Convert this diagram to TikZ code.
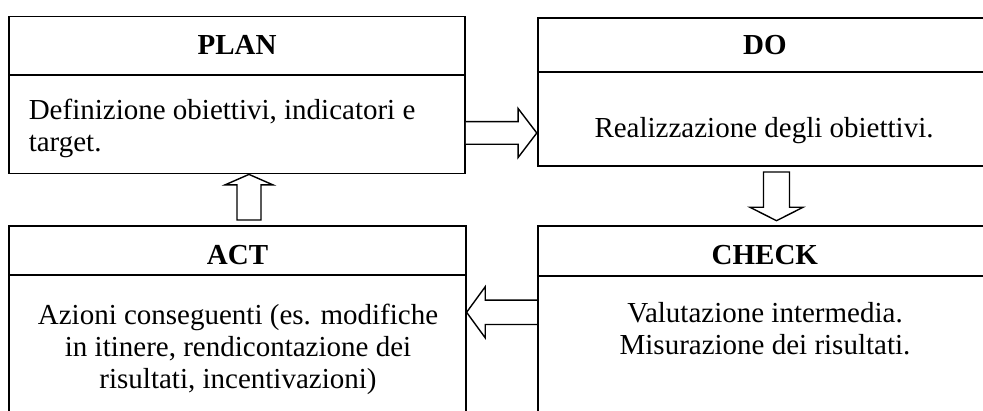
\documentclass[tikz,border=0pt]{standalone}
\usepackage{fontspec}
\setmainfont{Liberation Serif}
\usetikzlibrary{calc}
\begin{document}
\begin{tikzpicture}[x=1pt,y=-1pt,
  boxst/.style={draw, line width=1.8pt, rectangle, inner sep=0pt},
  divst/.style={line width=1.8pt},
  title/.style={font=\fontsize{29}{32}\selectfont\bfseries, inner sep=0pt, anchor=base},
  body/.style={font=\fontsize{29}{32}\selectfont, inner sep=0pt, align=center, anchor=base},
  blk/.style={draw, line width=1.4pt, fill=white, line join=miter}]
\useasboundingbox (0,0) rectangle (983,411);
% boxes
\node[boxst, minimum width=455.7pt, minimum height=157pt] (plan) at (237.15,95) {};
\node[boxst, minimum width=454.3pt, minimum height=148pt] (do) at (764.85,91.7) {};
\node[boxst, minimum width=456.4pt, minimum height=194.3pt] (act) at (237.5,322.85) {};
\node[boxst, minimum width=454.3pt, minimum height=194.3pt] (check) at (764.85,322.85) {};
% dividers
\draw[divst] (plan.west |- 0,75) -- (plan.east |- 0,75);
\draw[divst] (do.west |- 0,71.7) -- (do.east |- 0,71.7);
\draw[divst] (act.west |- 0,275) -- (act.east |- 0,275);
\draw[divst] (check.west |- 0,275.7) -- (check.east |- 0,275.7);
% titles
\node[title] (plant) at (237.15,55) {PLAN};
\node[title] (dot) at (764.85,55) {DO};
\node[title] (actt) at (237.5,265) {ACT};
\node[title] (checkt) at (764.85,265) {CHECK};
% bodies (base anchor = baseline of the last line)
\node[body, anchor=base west, align=left] (planb) at (28.6,152) {Definizione obiettivi, indicatori e\\target.};
\node[body] (dob) at (764,137.5) {Realizzazione degli obiettivi.};
\node[body] (actb) at (238,389) {Azioni conseguenti (es. modifiche\\in itinere, rendicontazione dei\\risultati, incentivazioni)};
\node[body] (checkb) at (765,355) {Valutazione intermedia.\\Misurazione dei risultati.};
% arrow anchor points
\coordinate (r1) at (plan.east |- 0,133);
\coordinate (r2) at (do.west |- 0,133);
\coordinate (l1) at (check.west |- 0,312.3);
\coordinate (l2) at (act.east |- 0,312.3);
\coordinate (u1) at (249,220);
\coordinate (u2) at (plan.south -| u1);
\coordinate (d1) at (776.5,172);
\coordinate (d2) at (776.5,220.7);
% block arrows
\draw[blk] ($(r1)+(0,-11.3)$) -- ($(r2)+(-18.7,-11.3)$) -- ($(r2)+(-18.7,-24.5)$) -- (r2)
  -- ($(r2)+(-18.7,24.5)$) -- ($(r2)+(-18.7,11.3)$) -- ($(r1)+(0,11.3)$);
\draw[blk] ($(l1)+(0,-12.2)$) -- ($(l2)+(18.6,-12.2)$) -- ($(l2)+(18.6,-25.5)$) -- (l2)
  -- ($(l2)+(18.6,25.5)$) -- ($(l2)+(18.6,12.2)$) -- ($(l1)+(0,12.2)$);
\draw[blk] ($(u1)+(-12,0)$) -- ($(u2)+(-12,10.5)$) -- ($(u2)+(-24,10.5)$) -- (u2)
  -- ($(u2)+(24,10.5)$) -- ($(u2)+(12,10.5)$) -- ($(u1)+(12,0)$) -- cycle;
\draw[blk] ($(d1)+(-13,0)$) -- ($(d2)+(-13,-13.4)$) -- ($(d2)+(-26.5,-13.4)$) -- (d2)
  -- ($(d2)+(26.5,-13.4)$) -- ($(d2)+(13,-13.4)$) -- ($(d1)+(13,0)$) -- cycle;
\end{tikzpicture}
\end{document}
